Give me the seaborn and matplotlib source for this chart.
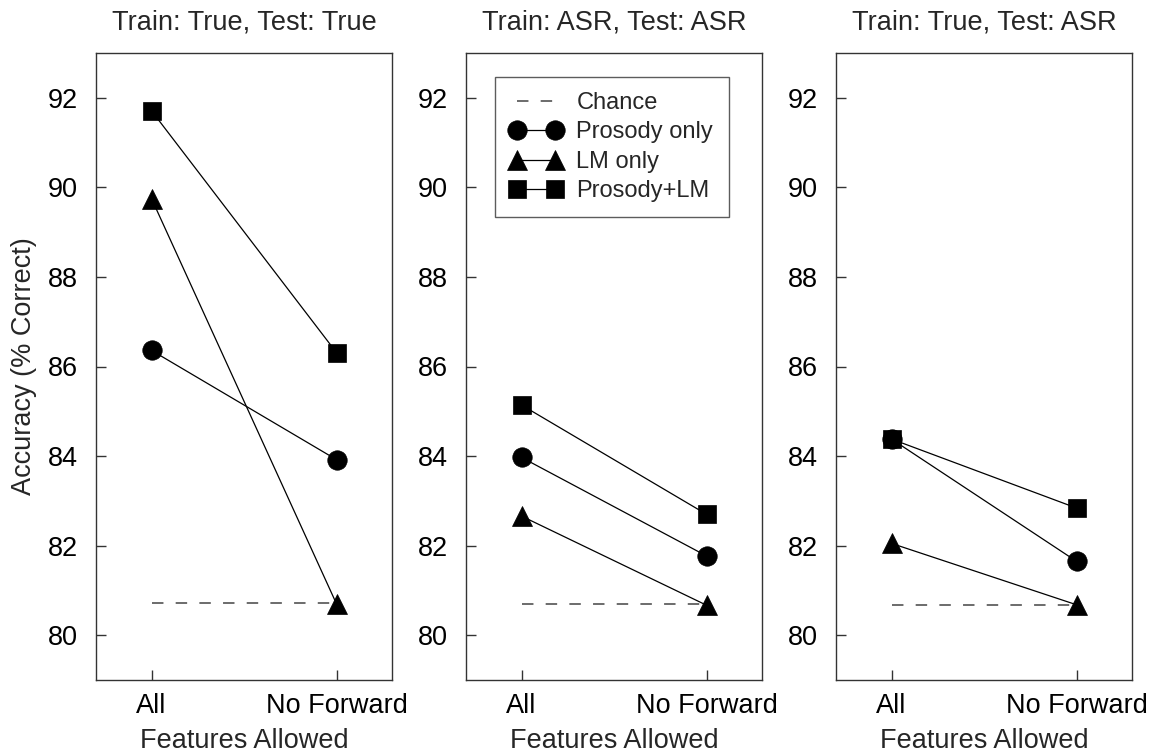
import numpy as np
import pandas as pd
import matplotlib
matplotlib.use("Agg")
import matplotlib.pyplot as plt
import seaborn as sns

sns.set_theme(style="white")
plt.rcParams['font.family'] = ['Liberation Sans', 'DejaVu Sans']

# ---- data ----
conditions = ["All", "No Forward"]
panel_titles = ["Train: True, Test: True", "Train: ASR, Test: ASR", "Train: True, Test: ASR"]
series_names = ["Prosody only", "LM only", "Prosody+LM"]

prosody_only = [[86.36, 83.92], [83.97, 81.77], [84.38, 81.65]]
lm_only = [[89.75, 80.70], [82.66, 80.67], [82.05, 80.68]]
prosody_lm = [[91.71, 86.31], [85.14, 82.70], [84.38, 82.84]]
chance = [80.72, 80.70, 80.68]

yticks = [80, 82, 84, 86, 88, 90, 92]
ylabel = "Accuracy (% Correct)"
xlabel = "Features Allowed"

markers = {"Prosody only": "o", "LM only": "^", "Prosody+LM": "s"}
msizes = {"Prosody only": 14, "LM only": 15, "Prosody+LM": 13}
values = {"Prosody only": prosody_only, "LM only": lm_only, "Prosody+LM": prosody_lm}

FS = 19.5
LFS = 17
fig = plt.figure(figsize=(11.49, 7.52), dpi=100)
lefts = [96, 466, 836]
W, H = 1149, 752
axes = []
for i, lft in enumerate(lefts):
    ax = fig.add_axes([lft / W, 1 - 680 / H, 296 / W, (680 - 53) / H])
    axes.append(ax)
    xpos = np.arange(len(conditions))
    # chance line
    sns.lineplot(x=xpos, y=[chance[i]] * len(conditions), ax=ax, color="#444444",
                 lw=1.1, dashes=False, linestyle=(0, (7.5, 8.0)), label="Chance")
    for name in series_names:
        df = pd.DataFrame({"x": xpos, "y": values[name][i]})
        sns.lineplot(data=df, x="x", y="y", ax=ax, color="black", lw=0.9,
                     marker=markers[name], markersize=msizes[name],
                     markeredgecolor="black", markerfacecolor="black",
                     markeredgewidth=0.5, label=name)
    ax.set_xlim(-0.3, 1.3)
    ax.set_ylim(79, 93)
    ax.set_xticks(xpos)
    ax.set_xticklabels(conditions, fontsize=FS)
    ax.set_yticks(yticks)
    ax.set_yticklabels([str(t) for t in yticks], fontsize=FS)
    ax.tick_params(direction="in", length=7, width=1, colors="#333333",
                   labelcolor="black", bottom=True, left=True)
    ax.tick_params(axis="y", pad=13)
    ax.tick_params(axis="x", pad=9.5)
    for s in ax.spines.values():
        s.set_color("#333333")
        s.set_linewidth(1.0)
    ax.set_title(panel_titles[i], fontsize=FS, pad=17)
    ax.set_xlabel(xlabel, fontsize=FS, labelpad=6)
    if i == 0:
        ax.set_ylabel(ylabel, fontsize=FS, labelpad=8)
    else:
        ax.set_ylabel("")
    leg = ax.get_legend()
    if leg is not None:
        leg.remove()

h, l = axes[1].get_legend_handles_labels()
leg = axes[1].legend(h, l, loc="upper left", bbox_to_anchor=(0.098, 0.962),
                     fontsize=LFS, numpoints=2, handlelength=2.2, handletextpad=0.6,
                     labelspacing=0.31, borderpad=0.65,
                     borderaxespad=0, frameon=True, fancybox=False,
                     edgecolor="#333333")
leg.get_frame().set_linewidth(1.0)

fig.savefig("out.png", dpi=100)
